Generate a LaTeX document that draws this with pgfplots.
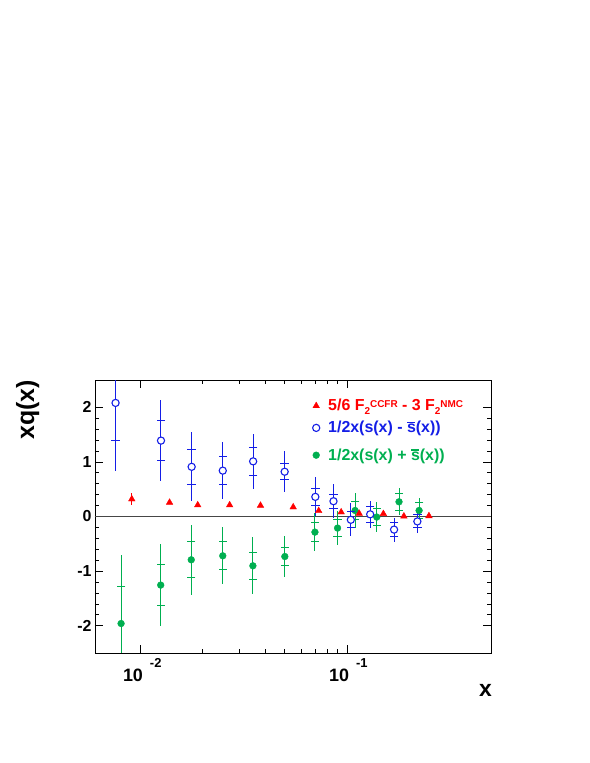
\documentclass[border=0pt]{standalone}
\usepackage{pgfplots}
\pgfplotsset{compat=1.18}
\usepackage{pgfplotstable}
\usepackage{fontspec}
\setmainfont{Liberation Sans}
\definecolor{rblue}{RGB}{20,30,230}
\definecolor{rgreen}{RGB}{0,175,80}
\definecolor{rred}{RGB}{255,0,0}
\newcommand{\sbar}{\leavevmode\rlap{\kern0.4bp\raisebox{9.5bp}{\rule{7.2bp}{1.3bp}}}s}
\newcommand{\subsup}[2]{\raisebox{-3.3bp}{\fontsize{10}{10}\selectfont #1}\raisebox{3.8bp}{\fontsize{10}{10}\selectfont #2}}
\newcommand{\xtl}[1]{\fontsize{18}{18}\selectfont\bfseries 10\hspace{7bp}\raisebox{14bp}{\fontsize{13}{13}\selectfont #1}}

\pgfplotstableread{
x y stat tot
0.00755 2.08 0.68 1.24
0.01254 1.39 0.37 0.74
0.01766 0.91 0.32 0.63
0.0250 0.84 0.25 0.52
0.0351 1.01 0.25 0.51
0.0499 0.82 0.15 0.375
0.0703 0.36 0.15 0.36
0.0861 0.28 0.13 0.31
0.1045 -0.06 0.145 0.30
0.1297 0.04 0.15 0.25
0.1694 -0.24 0.13 0.22
0.2197 -0.09 0.12 0.21
}\bluedata

\pgfplotstableread{
x y stat tot
0.00803 -1.96 0.685 1.26
0.0125 -1.256 0.378 0.75
0.01758 -0.793 0.33 0.64
0.0250 -0.72 0.257 0.52
0.0350 -0.903 0.25 0.52
0.0500 -0.733 0.16 0.38
0.0700 -0.286 0.175 0.35
0.0901 -0.212 0.16 0.31
0.1096 0.11 0.16 0.32
0.1396 -0.01 0.155 0.27
0.179 0.269 0.16 0.25
0.224 0.11 0.14 0.22
}\greendata

\pgfplotstableread{
x y err
0.00905 0.318 0.11
0.0138 0.256 0.0
0.0189 0.209 0.0
0.0270 0.209 0.0
0.0381 0.201 0.0
0.0549 0.172 0.0
0.0730 0.104 0.0
0.0938 0.080 0.0
0.1147 0.055 0.0
0.1503 0.050 0.0
0.189 0.005 0.0
0.250 0.010 0.0
}\reddata

\begin{document}
\begin{tikzpicture}
\useasboundingbox (0,0) rectangle (590bp,763bp);
\begin{axis}[
  at={(95bp,110bp)}, anchor=south west,
  scale only axis, width=396bp, height=273bp,
  xmode=log, xmin=0.006, xmax=0.5, ymin=-2.5, ymax=2.5,
  xtick={0.01,0.1},
  xticklabels={{\xtl{-2}},{\xtl{-1}}},
  ytick={-2,-1,0,1,2},
  yticklabels={-2,-1,0,1,2},
  minor y tick num=4,
  major tick length=8bp, minor tick length=4bp,
  axis line style={line width=0.9bp},
  every tick/.style={black, line width=0.7bp},
  yticklabel style={font=\fontsize{16}{16}\selectfont\bfseries},
  xticklabel style={anchor=base, yshift=-29bp, xshift=1.5bp, inner sep=0pt},
  xlabel={x},
  xlabel style={at={(axis description cs:1.0025,-0.161)}, anchor=base east, inner sep=0pt, font=\fontsize{23}{23}\selectfont\bfseries},
  ylabel={xq(x)},
  ylabel style={at={(axis description cs:-0.140,1)}, anchor=south east, inner sep=0pt, font=\fontsize{25}{25}\selectfont\bfseries},
  legend style={at={(axis description cs:0.5455,0.9462)}, anchor=north west, draw=none, fill=none, inner sep=0pt,
    font=\fontsize{16}{16}\selectfont\bfseries, row sep=0pt, column sep=0pt, nodes={inner sep=0pt}, cells={anchor=west}},
  legend cell align=left,
]
\addplot[forget plot, color={rgb,255:red,70;green,70;blue,70}, line width=1.4bp] coordinates {(0.006,0) (0.5,0)};

% green
\addplot[forget plot, color=rgreen, only marks, mark=*, mark size=0pt, error bars/.cd, y dir=both, y explicit, error mark=none,
  error bar style={rgreen, line width=1bp}] table[x=x, y=y, y error=tot] {\greendata};
\addplot[forget plot, color=rgreen, only marks, mark=-, mark size=4.2bp, mark options={color=rgreen, draw=rgreen, line width=1bp}] table[x=x, y expr=\thisrow{y}+\thisrow{stat}] {\greendata};
\addplot[forget plot, color=rgreen, only marks, mark=-, mark size=4.2bp, mark options={color=rgreen, draw=rgreen, line width=1bp}] table[x=x, y expr=\thisrow{y}-\thisrow{stat}] {\greendata};
\addplot[forget plot, color=rgreen, only marks, mark=*, mark size=3.4bp, mark options={draw=rgreen, fill=rgreen}] table[x=x, y=y] {\greendata};

% blue
\addplot[forget plot, color=rblue, only marks, mark=*, mark size=0pt, error bars/.cd, y dir=both, y explicit, error mark=none,
  error bar style={rblue, line width=1bp}] table[x=x, y=y, y error=tot] {\bluedata};
\addplot[forget plot, color=rblue, only marks, mark=-, mark size=4.2bp, mark options={color=rblue, draw=rblue, line width=1bp}] table[x=x, y expr=\thisrow{y}+\thisrow{stat}] {\bluedata};
\addplot[forget plot, color=rblue, only marks, mark=-, mark size=4.2bp, mark options={color=rblue, draw=rblue, line width=1bp}] table[x=x, y expr=\thisrow{y}-\thisrow{stat}] {\bluedata};
\addplot[forget plot, color=rblue, only marks, mark=*, mark size=3.6bp, mark options={draw=rblue, fill=white, line width=1.1bp}] table[x=x, y=y] {\bluedata};

% red
\addplot[forget plot, color=rred, only marks, mark=*, mark size=0pt, error bars/.cd, y dir=both, y explicit, error mark=none,
  error bar style={rred, line width=1bp}] table[x=x, y=y, y error=err] {\reddata};
\addplot[forget plot, color=rred, only marks, mark=triangle*, mark size=3.8bp, mark options={draw=rred, fill=rred}] table[x=x, y=y] {\reddata};

\addlegendimage{legend image code/.code={\draw[only marks, mark=triangle*, mark size=3.8bp, mark options={draw=rred, fill=rred}] plot coordinates {(0bp,0bp)}; \path[draw=none,fill=none] (-5bp,-11bp) rectangle (12bp,11bp);}}
\addlegendentry{\textcolor{rred}{5/6 F\subsup{2}{CCFR} - 3 F\subsup{2}{NMC}}}
\addlegendimage{legend image code/.code={\draw[only marks, mark=*, mark size=3.6bp, mark options={draw=rblue, fill=white, line width=1.1bp}] plot coordinates {(0bp,0bp)}; \path[draw=none,fill=none] (-5bp,-16.3bp) rectangle (12bp,11bp);}}
\addlegendentry{\textcolor{rblue}{1/2x(s(x) - \sbar(x))}}
\addlegendimage{legend image code/.code={\draw[only marks, mark=*, mark size=3.4bp, mark options={draw=rgreen, fill=rgreen}] plot coordinates {(0bp,0bp)}; \path[draw=none,fill=none] (-5bp,-11bp) rectangle (12bp,11bp);}}
\addlegendentry{\textcolor{rgreen}{1/2x(s(x) + \sbar(x))}}
\end{axis}
\end{tikzpicture}
\end{document}
